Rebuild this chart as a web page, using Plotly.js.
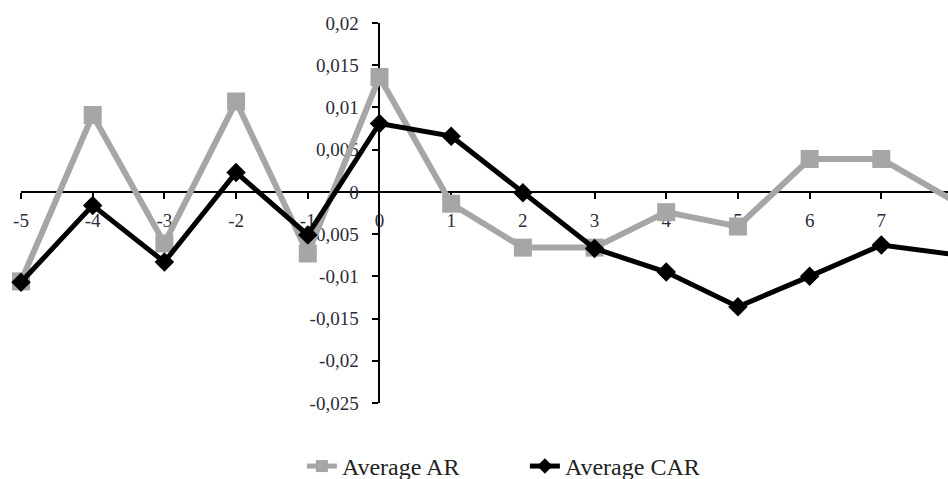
<!DOCTYPE html>
<html>
<head>
<meta charset="utf-8">
<script src="https://cdn.plot.ly/plotly-3.0.1.min.js"></script>
<style>html,body{margin:0;padding:0;background:#fff;}#chart{width:948px;height:479px;}</style>
</head>
<body>
<div id="chart"></div>
<script>
var days = [-5, -4, -3, -2, -1, 0, 1, 2, 3, 4, 5, 6, 7, 8];
var averageAR = [-0.0106, 0.0091, -0.0061, 0.0107, -0.0073, 0.0136, -0.0014, -0.0066, -0.0066, -0.0024, -0.0041, 0.0039, 0.0039, -0.0010];
var averageCAR = [-0.0107, -0.0016, -0.0083, 0.0023, -0.0051, 0.0081, 0.0066, -0.0001, -0.0067, -0.0095, -0.0136, -0.0100, -0.0063, -0.0074];
var xTickVals = [-5, -4, -3, -2, -1, 0, 1, 2, 3, 4, 5, 6, 7, 8];
var xTickText = ['-5', '-4', '-3', '-2', '-1', '0', '1', '2', '3', '4', '5', '6', '7', '8'];
var yTickVals = [0.02, 0.015, 0.01, 0.005, 0, -0.005, -0.01, -0.015, -0.02, -0.025];
var yTickText = ['0,02', '0,015', '0,01', '0,005', '0', '-0,005', '-0,01', '-0,015', '-0,02', '-0,025'];
var seriesNames = ['Average AR', 'Average CAR'];

var xRange = [-5, 7.93];
var yRange = [-0.025, 0.02];
var fontFam = '"Liberation Serif", "DejaVu Serif", serif';

var traces = [
  {
    x: days, y: averageAR, name: seriesNames[0], type: 'scatter', mode: 'lines+markers',
    line: {color: '#a6a6a6', width: 6},
    marker: {symbol: 'square', size: 18, color: '#a6a6a6'},
    cliponaxis: false
  },
  {
    x: days, y: averageCAR, name: seriesNames[1], type: 'scatter', mode: 'lines+markers',
    line: {color: '#000000', width: 5},
    marker: {symbol: 'diamond', size: 15, color: '#000000'},
    cliponaxis: false
  }
];

var layout = {
  width: 948, height: 479,
  margin: {l: 21, r: 0, t: 23, b: 76, autoexpand: false},
  paper_bgcolor: '#ffffff', plot_bgcolor: '#ffffff',
  font: {family: fontFam, color: '#2b2b3b', size: 19},
  showlegend: true,
  hovermode: false,
  legend: {
    orientation: 'h', x: 0.303, xanchor: 'left', y: -0.167, yanchor: 'middle',
    font: {family: fontFam, size: 24, color: '#222222'},
    itemsizing: 'constant',
    entrywidth: 178, entrywidthmode: 'pixels',
    bgcolor: 'rgba(0,0,0,0)'
  },
  xaxis: {
    range: xRange, anchor: 'free', position: (0 - yRange[0]) / (yRange[1] - yRange[0]),
    showgrid: false, zeroline: false, showline: true, linecolor: '#000', linewidth: 2,
    ticks: 'outside', ticklen: 6, tickwidth: 2, tickcolor: '#000',
    tickvals: xTickVals, ticktext: xTickText, ticklabelstandoff: 5,
    tickfont: {family: fontFam, size: 19, color: '#2b2b3b'},
    layer: 'below traces', fixedrange: true
  },
  yaxis: {
    range: yRange, anchor: 'free', position: (0 - xRange[0]) / (xRange[1] - xRange[0]),
    showgrid: false, zeroline: false, showline: true, linecolor: '#000', linewidth: 2,
    ticks: 'outside', ticklen: 6, tickwidth: 2, tickcolor: '#000',
    tickvals: yTickVals, ticktext: yTickText, ticklabelstandoff: 10,
    tickfont: {family: fontFam, size: 19, color: '#2b2b3b'},
    layer: 'below traces', fixedrange: true
  }
};

Plotly.newPlot('chart', traces, layout, {displayModeBar: false, staticPlot: true});
</script>
</body>
</html>
